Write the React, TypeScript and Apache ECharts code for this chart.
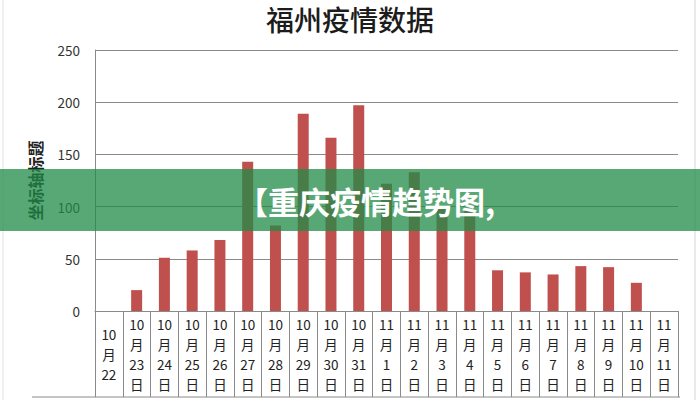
import React, { useEffect, useRef } from "react";
import * as echarts from "echarts";

const titleText = "福州疫情数据";
const bannerText = "【重庆疫情趋势图,";
const yAxisName = "坐标轴标题";
const tickLabels = [
  "10\n月\n22",
  "10\n月\n23\n日",
  "10\n月\n24\n日",
  "10\n月\n25\n日",
  "10\n月\n26\n日",
  "10\n月\n27\n日",
  "10\n月\n28\n日",
  "10\n月\n29\n日",
  "10\n月\n30\n日",
  "10\n月\n31\n日",
  "11\n月\n1\n日",
  "11\n月\n2\n日",
  "11\n月\n3\n日",
  "11\n月\n4\n日",
  "11\n月\n5\n日",
  "11\n月\n6\n日",
  "11\n月\n7\n日",
  "11\n月\n8\n日",
  "11\n月\n9\n日",
  "11\n月\n10\n日",
  "11\n月\n11\n日",
];
const values = [0, 20, 51, 58, 68, 143, 82, 189, 166, 197, 122, 133, 100, 97, 39, 37, 35, 43, 42, 27, 0];
const yTicks = { min: 0, max: 250, interval: 50 };

const FONT = "'Noto Sans CJK SC', 'Noto Sans', sans-serif";

export default function App() {
  const ref = useRef<HTMLDivElement>(null);
  useEffect(() => {
    if (!ref.current) return;
    const chart = echarts.init(ref.current, undefined, { renderer: "svg" });
    chart.setOption({
      animation: false,
      backgroundColor: "#ffffff",
      title: {
        text: titleText,
        left: "center",
        top: 0,
        textStyle: { fontFamily: FONT, fontSize: 28, fontWeight: 500, color: "#1c1c1c" },
      },
      grid: { left: 95, right: 22, top: 50, bottom: 89, containLabel: false },
      xAxis: {
        type: "category",
        data: tickLabels,
        boundaryGap: true,
        axisLine: { show: true, lineStyle: { color: "#8a8a8a", width: 1 } },
        axisTick: { show: true, interval: 0, length: 86, lineStyle: { color: "#8a8a8a", width: 1 } },
        axisLabel: {
          interval: 0,
          margin: 43,
          verticalAlign: "middle",
          lineHeight: 20,
          fontSize: 13.5,
          color: "#222",
          fontFamily: FONT,
        },
      },
      yAxis: {
        type: "value",
        min: yTicks.min,
        max: yTicks.max,
        interval: yTicks.interval,
        name: yAxisName,
        nameLocation: "middle",
        nameRotate: 90,
        nameGap: 52,
        nameTextStyle: { fontFamily: FONT, fontSize: 16, fontWeight: "bold", color: "#222" },
        axisLine: { show: true, lineStyle: { color: "#8a8a8a", width: 1 } },
        axisTick: { show: false },
        splitLine: { show: true, lineStyle: { color: "#8a8a8a", width: 1 } },
        axisLabel: { margin: 15, fontSize: 13.5, color: "#333", fontFamily: FONT },
      },
      series: [
        {
          type: "bar",
          data: values,
          barWidth: 11,
          itemStyle: { color: "#c0504d" },
        },
      ],
      graphic: [
        {
          type: "line",
          shape: { x1: 32, y1: 397, x2: 680, y2: 397 },
          style: { stroke: "#8a8a8a", lineWidth: 1 },
          z: 5,
        },
        {
          type: "line",
          shape: { x1: 695, y1: 0, x2: 695, y2: 400 },
          style: { stroke: "#d4d4d4", lineWidth: 1 },
          z: 5,
        },
        {
          type: "line",
          shape: { x1: 3, y1: 0, x2: 3, y2: 400 },
          style: { stroke: "#e2e2e2", lineWidth: 1 },
          z: 5,
        },
        {
          type: "rect",
          shape: { x: 0, y: 169, width: 700, height: 62 },
          style: { fill: "rgba(32,139,72,0.75)" },
          z: 100,
        },
        {
          type: "text",
          x: 366,
          y: 200,
          style: {
            text: bannerText,
            fill: "#ffffff",
            fontFamily: FONT,
            fontSize: 31,
            fontWeight: "bold",
            align: "center",
            verticalAlign: "middle",
          },
          z: 101,
        },
      ],
    });
    return () => chart.dispose();
  }, []);
  return (
    <div
      ref={ref}
      style={{ position: "absolute", left: 0, top: 0, width: 700, height: 400 }}
    />
  );
}
